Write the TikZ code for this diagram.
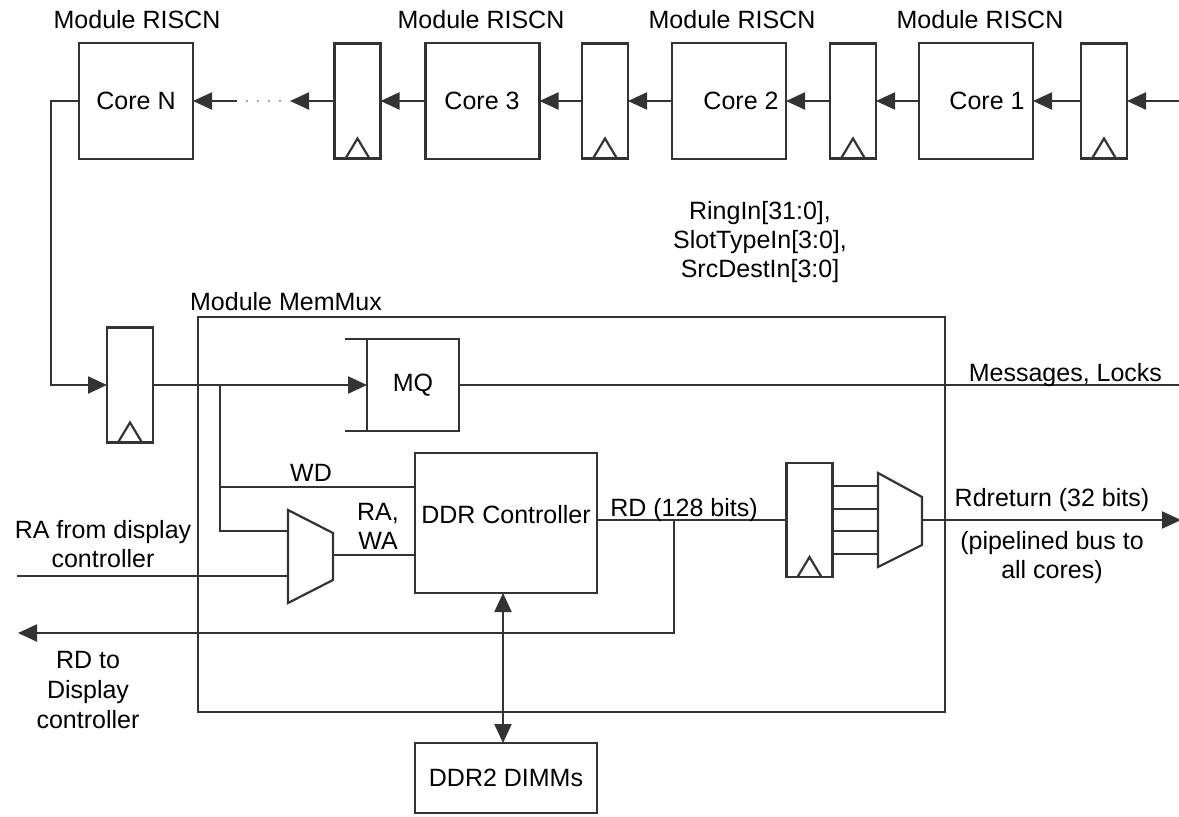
\documentclass[tikz,border=0pt]{standalone}
\usepackage{fontspec}
\setmainfont{Liberation Sans}
\usetikzlibrary{arrows.meta}
\newcommand\clocktri[1]{\draw[wire] ([xshift=-12pt]#1.south) -- ([yshift=20pt]#1.south) -- ([xshift=12pt]#1.south);}
\begin{document}
\begin{tikzpicture}[x=1pt,y=-1pt,
  every node/.style={font=\fontsize{25}{29}\selectfont, inner sep=0pt, outer sep=0pt, text=black},
  wire/.style={draw=black!80, line width=2.2pt},
  arr/.style={wire, -{Triangle[length=19pt,width=17pt]}},
  darr/.style={wire, {Triangle[length=19pt,width=17pt]}-{Triangle[length=19pt,width=17pt]}},
  corebox/.style={draw=black!80, line width=2.2pt, minimum width=114pt, minimum height=116pt},
  regbox/.style={draw=black!80, line width=2.2pt, minimum width=46pt, minimum height=115pt},
  plainbox/.style={draw=black!80, line width=2.2pt},
]
\useasboundingbox (0,0) rectangle (1179,817);

% ---- ring of cores ----
\node[corebox] (cN) at (136,101) {};
\node[corebox] (c3) at (482.5,101) {};
\node[corebox] (c2) at (729,101) {};
\node[corebox] (c1) at (976,101) {};
\node (cNt) at (136,101) {Core N};
\node (c3t) at (482,101) {Core 3};
\node (c2t) at (741,101) {Core 2};
\node (c1t) at (987,101) {Core 1};

\node (mN) at (137,20) {Module RISCN};
\node (m3) at (481,20) {Module RISCN};
\node (m2) at (732,20) {Module RISCN};
\node (m1) at (980,20) {Module RISCN};

\node[regbox] (r1) at (1104,101) {};
\node[regbox] (r2) at (853,101) {};
\node[regbox] (r3) at (605,101) {};
\node[regbox] (r4) at (357.5,101) {};
\clocktri{r1}\clocktri{r2}\clocktri{r3}\clocktri{r4}

\coordinate (ringin) at (1179,101);
\coordinate (d1) at (290,101);
\coordinate (d2) at (281,101);
\coordinate (d3) at (237,101);

\draw[arr] (ringin) -- (r1.east);
\draw[arr] (r1.west) -- (c1.east);
\draw[arr] (c1.west) -- (r2.east);
\draw[arr] (r2.west) -- (c2.east);
\draw[arr] (c2.west) -- (r3.east);
\draw[arr] (r3.west) -- (c3.east);
\draw[arr] (c3.west) -- (r4.east);
\draw[arr] (r4.west) -- (d1);
\draw[draw=black!35, line width=2pt, dash pattern=on 2pt off 9pt] (d2) -- (d3);
\draw[arr] (d3) -- (cN.east);

\node[align=center] (ringlbl) at (760,242) {RingIn[31:0],\\SlotTypeIn[3:0],\\SrcDestIn[3:0]};

% ---- MemMux ----
\node (mmlbl) at (286,302) {Module MemMux};
\draw[wire] (198,317) rectangle (945,712);

\node[regbox] (r5) at (130,385) {};
\clocktri{r5}
\draw[arr] (cN.west) -- ++(-28,0) |- (r5.west);

\node[plainbox, minimum width=92pt, minimum height=92pt] (mq) at (413,385) {MQ};
\draw[wire] ([xshift=-22pt]mq.north west) -- (mq.north west);
\draw[wire] ([xshift=-22pt]mq.south west) -- (mq.south west);
\draw[arr] (r5.east) -- (mq.west);
\coordinate (msgout) at (1179,385);
\draw[wire] (mq.east) -- (msgout);
\node[anchor=base east] (msglbl) at (1162,381) {Messages, Locks};

\node[plainbox, minimum width=182pt, minimum height=140pt] (ddr) at (506,523) {};
\node (ddrt) at (506,515) {DDR Controller};

% left mux
\draw[wire] (288,510) -- (333,533) -- (333,580) -- (288,603) -- cycle;
\coordinate (m1a) at (288,531);
\coordinate (m1b) at (288,576);
\coordinate (m1o) at (333,555);
\coordinate (j1) at (220,385);
\coordinate (wdin) at (415,487);
\coordinate (wain) at (415,555);
\draw[wire] (j1) -- (220,531) -- (m1a);
\draw[wire] (220,487) -- (wdin);
\draw[wire] (m1o) -- (wain);
\node (wdl) at (311,473) {WD};
\node[align=center] (rawa) at (378,526) {RA,\\WA};

\coordinate (rain) at (17,576);
\draw[wire] (rain) -- (m1b);
\node[align=center] (ralbl) at (103,544) {RA from display\\controller};

% RD path
\node[regbox, minimum height=114pt] (r6) at (809.5,520) {};
\clocktri{r6}
\coordinate (rdsrc) at (597,520);
\coordinate (j2) at (674,520);
\coordinate (rdout) at (18,633);
\draw[wire] (rdsrc) -- (r6.west);
\draw[arr] (j2) |- (rdout);
\node (rdlbl) at (684,510) {RD (128 bits)};
\node[align=center] (rddisp) at (88,690) {RD to\\[1pt]Display\\[1pt]controller};

% right mux
\draw[wire] (878,473) -- (922,497) -- (922,545) -- (878,567) -- cycle;
\foreach \yy in {486,509,531,554} {\draw[wire] (832,\yy) -- (878,\yy);}
\coordinate (m2o) at (922,520);
\coordinate (rdret) at (1181,520);
\draw[arr] (m2o) -- (rdret);
\node (rdrl) at (1052,500) {Rdreturn (32 bits)};
\node[align=center] (pipe) at (1052,558) {(pipelined bus to\\all cores)};

% DIMMs
\node[plainbox, minimum width=182pt, minimum height=70pt] (dimm) at (506,778) {DDR2 DIMMs};
\coordinate (ddrb) at (503,593);
\coordinate (dimmt) at (503,743);
\draw[darr] (ddrb) -- (dimmt);
\end{tikzpicture}
\end{document}
